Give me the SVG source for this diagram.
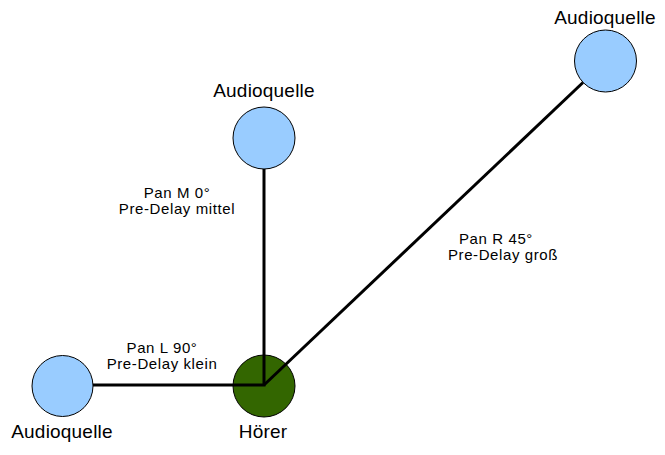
<svg xmlns="http://www.w3.org/2000/svg" width="665" height="455" viewBox="0 0 665 455">
<style>
.src{fill:#99ccff;stroke:#000;stroke-width:1}
.lis{fill:#336600;stroke:#000;stroke-width:1}
.name{font-family:"Liberation Sans",Arial,sans-serif;font-size:19px;letter-spacing:0.2px;fill:#000;text-anchor:middle}
.lbl{font-family:"Liberation Sans",Arial,sans-serif;font-size:15px;letter-spacing:0.6px;fill:#000;text-anchor:middle}
.conn{stroke:#000;stroke-width:3;fill:none}
</style>
<rect width="665" height="455" fill="#fff"/>
<g id="src-left"><circle class="src" cx="62.5" cy="386" r="30.5"/><text class="name" x="62" y="438">Audioquelle</text></g>
<g id="src-mid"><circle class="src" cx="264" cy="138" r="31"/><text class="name" x="264" y="97">Audioquelle</text></g>
<g id="src-right"><circle class="src" cx="605.5" cy="61" r="31"/><text class="name" x="605" y="24">Audioquelle</text></g>
<g id="listener"><circle class="lis" cx="264" cy="386" r="31"/><text class="name" x="263" y="438">Hörer</text></g>
<g id="connectors">
<path class="conn" d="M93,385 H264 V169"/>
<path class="conn" d="M264,385 L583,82.5"/>
</g>
<g id="labels">
<text class="lbl" x="162" y="353">Pan L 90°</text>
<text class="lbl" x="162" y="369">Pre-Delay klein</text>
<text class="lbl" x="177" y="198">Pan M 0°</text>
<text class="lbl" x="177" y="214">Pre-Delay mittel</text>
<text class="lbl" x="496" y="244">Pan R 45°</text>
<text class="lbl" x="503" y="260">Pre-Delay groß</text>
</g>
</svg>
